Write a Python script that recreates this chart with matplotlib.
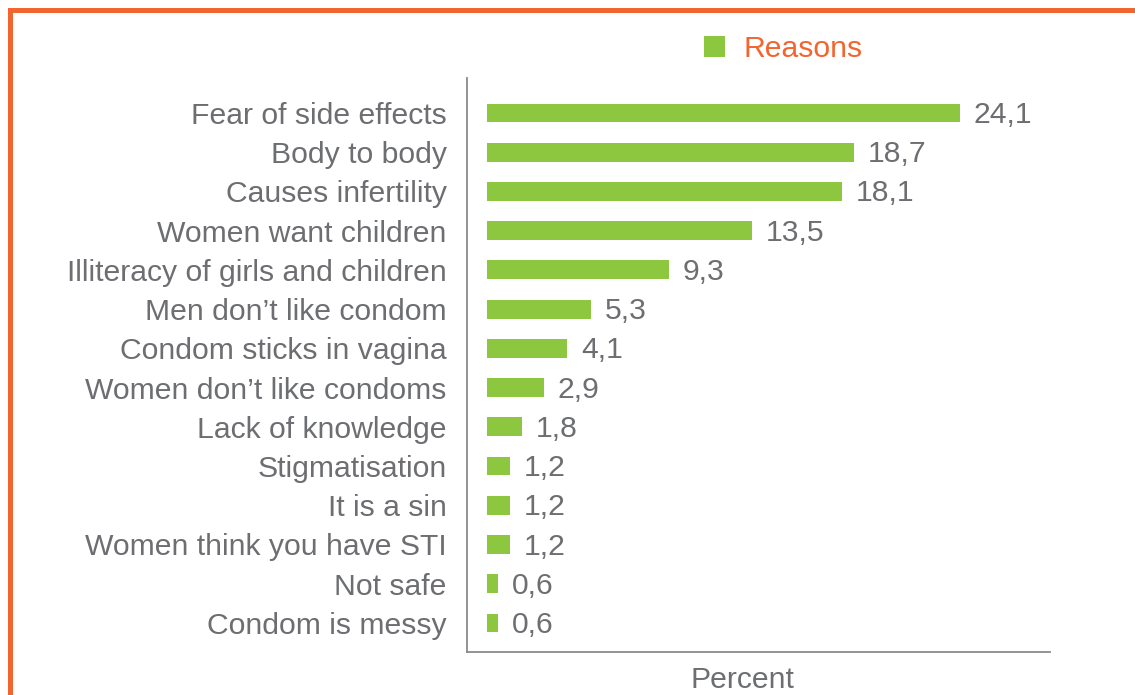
import matplotlib
matplotlib.use('Agg')
import matplotlib.pyplot as plt
from matplotlib.lines import Line2D

# Data
reasons = ['Fear of side effects', 'Body to body', 'Causes infertility',
           'Women want children', 'Illiteracy of girls and children',
           'Men don\u2019t like condom', 'Condom sticks in vagina',
           'Women don\u2019t like condoms', 'Lack of knowledge', 'Stigmatisation',
           'It is a sin', 'Women think you have STI', 'Not safe', 'Condom is messy']
percent = [24.1, 18.7, 18.1, 13.5, 9.3, 5.3, 4.1, 2.9, 1.8, 1.2, 1.2, 1.2, 0.6, 0.6]
series_name = 'Reasons'
x_label = 'Percent'

GREEN = '#8DC63F'
ORANGE = '#F26430'
TEXT = '#6D6E71'
AXIS = '#8A8A8A'
FS = 21.7

plt.rcParams['font.family'] = ['Liberation Sans', 'DejaVu Sans']

fig = plt.figure(figsize=(11.35, 6.95), dpi=100)
ax = fig.add_axes([467 / 1135, 1 - 652 / 695, (1050 - 467) / 1135, (652 - 78) / 695])

pos = list(range(len(reasons)))
bars = ax.barh(pos, percent, height=0.48, color=GREEN, label=series_name)

ax.set_ylim(len(reasons) - 0.26, -0.89)
ax.set_xlim(-1.0, 28.7)

ax.set_yticks(pos)
ax.set_yticklabels(reasons, fontsize=FS, color=TEXT)
ax.set_xticks([])
ax.tick_params(axis='y', length=0, pad=14.5)

for side in ['top', 'right']:
    ax.spines[side].set_visible(False)
for side in ['left', 'bottom']:
    ax.spines[side].set_color(AXIS)
    ax.spines[side].set_linewidth(1.3)

# value labels, comma decimal separator
for b, v in zip(bars, percent):
    ax.annotate(f'{v:.1f}'.replace('.', ','), (b.get_width(), b.get_y() + b.get_height() / 2),
                xytext=(10, -1.5), textcoords='offset points', va='center', ha='left',
                fontsize=FS, color=TEXT)

leg = fig.legend(loc='center', bbox_to_anchor=(783 / 1135, 1 - 49 / 695), frameon=False,
                 fontsize=FS, labelcolor=ORANGE, handlelength=0.7, handleheight=0.7,
                 handletextpad=0.6)

fig.text(742 / 1135, 1 - 680 / 695, x_label, ha='center', va='center', fontsize=FS, color=TEXT)

# orange frame on left and top
x0 = 10 / 1135
y0 = 1 - 10 / 695
fig.add_artist(Line2D([x0, x0, 1.0], [0.0, y0, y0], transform=fig.transFigure,
                      color=ORANGE, linewidth=3.6, solid_joinstyle='miter'))

fig.savefig('out.png', dpi=100)
